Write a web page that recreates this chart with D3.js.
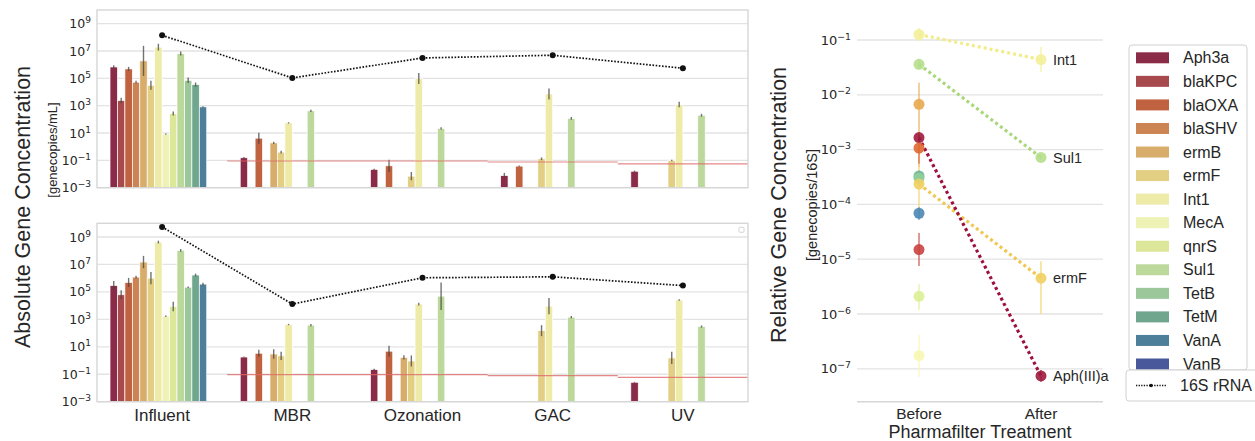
<!DOCTYPE html>
<html>
<head>
  <meta charset="utf-8">
  <title>Gene concentration</title>
  <script src="https://d3js.org/d3.v7.min.js"></script>
  <style>
    body { margin: 0; background: #fff; }
    text { fill: #262626; }
  </style>
</head>
<body>
  <svg width="1255" height="441"></svg>
  <script>
// treatment stages and genes
const stages = ['Influent', 'MBR', 'Ozonation', 'GAC', 'UV'];
const genes = ['Aph3a', 'blaKPC', 'blaOXA', 'blaSHV', 'ermB', 'ermF', 'Int1', 'MecA',
               'qnrS', 'Sul1', 'TetB', 'TetM', 'VanA', 'VanB'];
const geneColors = ['#8a2b47', '#a84a4d', '#c0613f', '#cc8552', '#d8ad6b', '#e2cf84', '#eeeba9',
                    '#eef2b4', '#dce79a', '#bcd89b', '#9cc79b', '#6fa68d', '#4e7f9a', '#48589a'];

// top panel: genecopies/mL per stage (rows) and gene (columns), null = not detected
const topConc = [
  [6.8e5, 2.4e3, 4.9e5, 5.2e4, 1.9e6, 3.1e4, 1.9e7, 8.3, 270, 6.5e6, 7.2e4, 3.5e4, 820, null],
  [0.155, null, 4.2, null, 1.9, 0.4, 55, null, null, 420, null, null, null, null],
  [0.022, null, 0.04, null, null, 0.007, 9.7e4, null, null, 22, null, null, null, null],
  [0.0076, null, 0.038, null, null, 0.13, 7.2e3, null, null, 117, null, null, null, null],
  [0.016, null, null, null, null, 0.1, 1.2e3, null, null, 200, null, null, null, null]
];
// error half span in decades
const topErr = [
  [0.12, 0.2, 0.15, 0.1, 1.1, 0.33, 0.25, 0.05, 0.15, 0.15, 0.2, 0.15, 0.05, null],
  [0.05, null, 0.4, null, 0.08, 0.1, 0.05, null, null, 0.08, null, null, null, null],
  [0.05, null, 0.45, null, null, 0.3, 0.4, null, null, 0.08, null, null, null, null],
  [0.2, null, 0.05, null, null, 0.1, 0.4, null, null, 0.1, null, null, null, null],
  [0.05, null, null, null, null, 0.05, 0.2, null, null, 0.1, null, null, null, null]
];
const top16S = [1.4e8, 1.07e5, 3.1e6, 4.9e6, 5.5e5];
const topLimit = [null, 0.09, 0.09, 0.076, 0.056];

// bottom panel
const botConc = [
  [2.9e5, 6.2e4, 4.9e5, 1.2e6, 1.5e7, 1.0e6, 4.3e8, 1.7e3, 8.6e3, 1.05e8, 2.2e5, 1.7e6, 3.7e5, null],
  [1.8, null, 3.4, null, 3.0, 2.2, 420, null, null, 380, null, null, null, null],
  [0.22, null, 4.8, null, 1.7, 0.93, 1.3e4, null, null, 4.9e4, null, null, null, null],
  [null, null, null, null, null, 150, 9.2e3, null, null, 1.45e3, null, null, null, null],
  [0.026, null, null, null, null, 1.55, 2.6e4, null, null, 300, null, null, null, null]
];
const botErr = [
  [0.33, 0.33, 0.33, 0.1, 0.45, 0.45, 0.1, 0.05, 0.35, 0.1, 0.05, 0.1, 0.1, null],
  [0.03, null, 0.25, null, 0.35, 0.3, 0.05, null, null, 0.08, null, null, null, null],
  [0.05, null, 0.4, null, 0.15, 0.4, 0.1, null, null, 1.0, null, null, null, null],
  [null, null, null, null, null, 0.4, 0.6, null, null, 0.08, null, null, null, null],
  [0.03, null, null, null, null, 0.45, 0.05, null, null, 0.08, null, null, null, null]
];
const bot16S = [5.4e9, 1.3e4, 1.07e6, 1.26e6, 2.9e5];
const botLimit = [null, 0.093, 0.093, 0.08, 0.06];

// right panel: relative concentration (genecopies/16S)
const relGenes = ['Int1', 'Sul1', 'ermB', 'Aph3a', 'blaOXA', 'TetM', 'TetB', 'ermF', 'VanA', 'blaKPC', 'qnrS', 'MecA'];
const relColors = ['#f4ef98', '#b5de8c', '#e8a850', '#9e1b3e', '#e0672f', '#6cb593', '#8fcf9a',
                   '#f0d062', '#4b87b3', '#c9423f', '#dcee95', '#f6f7b2'];
const relBefore = [0.126, 0.036, 0.0067, 1.66e-3, 1.07e-3, 3.3e-4, 3.0e-4, 2.35e-4, 6.9e-5, 1.5e-5, 2.1e-6, 1.74e-7];
const relBeforeLow = [0.095, 0.029, 4.8e-4, 1.4e-3, 5.5e-4, 2.6e-4, 2.4e-4, 9e-5, 5.2e-5, 7.5e-6, 1.2e-6, 7.2e-8];
const relBeforeHigh = [0.165, 0.045, 0.0166, 1.9e-3, 1.9e-3, 4.2e-4, 3.8e-4, 5e-4, 9e-5, 3e-5, 3.5e-6, 4.2e-7];
const afterGenes = ['Int1', 'Sul1', 'ermF', 'Aph3a'];
const afterLabels = ['Int1', 'Sul1', 'ermF', 'Aph(III)a'];
const relAfter = [0.044, 7.2e-4, 4.5e-6, 7.4e-8];
const relAfterLow = [0.026, 6.4e-4, 1.0e-6, 5.8e-8];
const relAfterHigh = [0.075, 8.1e-4, 9.2e-6, 9.5e-8];
const relLineColors = ['#f3ec86', '#a9d87a', '#f0c850', '#9e0f3c'];
const treatments = ['Before', 'After'];

const svg = d3.select('svg');
const tickFont = 'DejaVu Sans, sans-serif';
const labelFont = 'Liberation Sans, Arial, sans-serif';

function supLabel(sel, d) {
  const e = Math.round(Math.log10(d));
  sel.text('');
  sel.append('tspan').text('10');
  sel.append('tspan').attr('dy', '-0.55em').attr('font-size', '0.72em')
    .text(e < 0 ? '\u2212' + (-e) : e);
}

// ---------- left panels ----------
const xGroup = d3.scaleBand().domain(stages).range([97, 748]);
const bw = xGroup.bandwidth();
const xGene = d3.scaleBand().domain(genes).range([0, bw * 0.8]);

function drawPanel(y0, y1, conc, err, s16, limit, showEmptyLegend) {
  const y = d3.scaleLog().domain([1e-3, 1e10]).range([y1, y0]);
  const g = svg.append('g');
  const ticks = [1e-3, 1e-1, 1e1, 1e3, 1e5, 1e7, 1e9];

  g.selectAll('line.grid').data(ticks).join('line')
    .attr('x1', 97).attr('x2', 748)
    .attr('y1', d => y(d)).attr('y2', d => y(d))
    .attr('stroke', '#e3e3e3').attr('stroke-width', 1.3);

  const axis = g.append('g').attr('transform', 'translate(97,0)')
    .call(d3.axisLeft(y).tickValues(ticks).tickSize(0).tickPadding(6));
  axis.select('.domain').remove();
  axis.selectAll('.tick text')
    .attr('font-family', tickFont).attr('font-size', 12.5).attr('fill', '#333')
    .each(function(d) { supLabel(d3.select(this), d); });

  // bars
  stages.forEach((s, i) => {
    const gx = xGroup(s) + bw * 0.1;
    genes.forEach((gene, j) => {
      const v = conc[i][j];
      if (v == null) return;
      g.append('rect')
        .attr('x', gx + xGene(gene)).attr('width', xGene.bandwidth())
        .attr('y', y(v)).attr('height', y1 - y(v))
        .attr('fill', geneColors[j]).attr('stroke', '#fff').attr('stroke-width', 0.7);
    });
    genes.forEach((gene, j) => {
      const v = conc[i][j], e = err[i][j];
      if (v == null) return;
      const cx = gx + xGene(gene) + xGene.bandwidth() / 2;
      g.append('line')
        .attr('x1', cx).attr('x2', cx)
        .attr('y1', Math.min(y1, y(v * Math.pow(10, -e)))).attr('y2', y(v * Math.pow(10, e)))
        .attr('stroke', '#444').attr('stroke-opacity', 0.75).attr('stroke-width', 1.4);
    });
    if (limit[i] != null) {
      g.append('line')
        .attr('x1', xGroup(s)).attr('x2', xGroup(s) + bw)
        .attr('y1', y(limit[i])).attr('y2', y(limit[i]))
        .attr('stroke', '#de6a6a').attr('stroke-opacity', 0.8).attr('stroke-width', 1.2);
    }
  });

  // 16S rRNA
  const line = d3.line().x((d, i) => xGroup(stages[i]) + bw / 2).y(d => y(d));
  g.append('path').datum(s16)
    .attr('fill', 'none').attr('stroke', '#111').attr('stroke-width', 1.7)
    .attr('stroke-dasharray', '1.6,1.6').attr('d', line);
  g.selectAll('circle').data(s16).join('circle')
    .attr('cx', (d, i) => xGroup(stages[i]) + bw / 2).attr('cy', d => y(d))
    .attr('r', 3).attr('fill', '#111');

  g.append('rect').attr('x', 97).attr('y', y0).attr('width', 651).attr('height', y1 - y0)
    .attr('fill', 'none').attr('stroke', '#d6d6d6').attr('stroke-width', 1.4);

  if (showEmptyLegend) {
    g.append('rect').attr('x', 739).attr('y', y0 + 4).attr('width', 5).attr('height', 5).attr('rx', 1)
      .attr('fill', '#fff').attr('stroke', '#ccc').attr('stroke-width', 0.8);
  }
}

drawPanel(10, 187.7, topConc, topErr, top16S, topLimit, false);
drawPanel(223.3, 401.7, botConc, botErr, bot16S, botLimit, true);

svg.append('g').selectAll('text').data(stages).join('text')
  .attr('x', d => xGroup(d) + bw / 2).attr('y', 415).attr('dy', '0.35em')
  .attr('text-anchor', 'middle').attr('font-family', labelFont).attr('font-size', 17)
  .text(d => d);

svg.append('text').attr('transform', 'translate(22,207) rotate(-90)').attr('dy', '0.35em')
  .attr('text-anchor', 'middle').attr('font-family', labelFont).attr('font-size', 21.5)
  .text('Absolute Gene Concentration');
svg.append('text').attr('transform', 'translate(52,150) rotate(-90)').attr('dy', '0.35em')
  .attr('text-anchor', 'middle').attr('font-family', labelFont).attr('font-size', 13)
  .text('[genecopies/mL]');

// ---------- right panel ----------
const xr = d3.scalePoint().domain(treatments).range([919, 1041]);
const yr = d3.scaleLog().domain([Math.pow(10, -7.6), Math.pow(10, -0.635)]).range([401.7, 20]);
const rg = svg.append('g');
const rTicks = [1e-1, 1e-2, 1e-3, 1e-4, 1e-5, 1e-6, 1e-7];

rg.selectAll('line.grid').data(rTicks).join('line')
  .attr('x1', 857).attr('x2', 1103)
  .attr('y1', d => yr(d)).attr('y2', d => yr(d))
  .attr('stroke', '#e3e3e3').attr('stroke-width', 1.3);
rg.append('line').attr('x1', 857).attr('x2', 1103).attr('y1', 401.7).attr('y2', 401.7)
  .attr('stroke', '#d6d6d6').attr('stroke-width', 1.4);

const rAxis = rg.append('g').attr('transform', 'translate(857,0)')
  .call(d3.axisLeft(yr).tickValues(rTicks).tickSize(0).tickPadding(6));
rAxis.select('.domain').remove();
rAxis.selectAll('.tick text')
  .attr('font-family', tickFont).attr('font-size', 13).attr('fill', '#333')
  .each(function(d) { supLabel(d3.select(this), d); });

// before error bars and points
relGenes.forEach((gene, i) => {
  rg.append('line')
    .attr('x1', xr('Before')).attr('x2', xr('Before'))
    .attr('y1', yr(relBeforeLow[i])).attr('y2', yr(relBeforeHigh[i]))
    .attr('stroke', relColors[i]).attr('stroke-opacity', 0.55).attr('stroke-width', 2);
});
afterGenes.forEach((gene, i) => {
  rg.append('line')
    .attr('x1', xr('After')).attr('x2', xr('After'))
    .attr('y1', yr(relAfterLow[i])).attr('y2', yr(relAfterHigh[i]))
    .attr('stroke', relColors[relGenes.indexOf(gene)]).attr('stroke-opacity', 0.55).attr('stroke-width', 2);
});
// before -> after dotted lines
afterGenes.forEach((gene, i) => {
  const b = relBefore[relGenes.indexOf(gene)];
  rg.append('line')
    .attr('x1', xr('Before')).attr('y1', yr(b))
    .attr('x2', xr('After')).attr('y2', yr(relAfter[i]))
    .attr('stroke', relLineColors[i]).attr('stroke-width', 3.2)
    .attr('stroke-dasharray', '3,3');
});
rg.selectAll('circle.before').data(relBefore).join('circle')
  .attr('cx', xr('Before')).attr('cy', d => yr(d)).attr('r', 5.5)
  .attr('fill', (d, i) => relColors[i]).attr('fill-opacity', 0.9);
rg.selectAll('circle.after').data(relAfter).join('circle')
  .attr('cx', xr('After')).attr('cy', d => yr(d)).attr('r', 5.5)
  .attr('fill', (d, i) => relColors[relGenes.indexOf(afterGenes[i])]).attr('fill-opacity', 0.9);
rg.selectAll('text.lab').data(afterLabels).join('text')
  .attr('x', xr('After') + 12).attr('y', (d, i) => yr(relAfter[i])).attr('dy', '0.35em')
  .attr('font-family', labelFont).attr('font-size', 14.5).text(d => d);

rg.selectAll('text.tr').data(treatments).join('text')
  .attr('x', d => xr(d)).attr('y', 414).attr('dy', '0.35em').attr('text-anchor', 'middle')
  .attr('font-family', labelFont).attr('font-size', 15.5).text(d => d);
svg.append('text').attr('x', 980).attr('y', 432).attr('dy', '0.35em').attr('text-anchor', 'middle')
  .attr('font-family', labelFont).attr('font-size', 18).text('Pharmafilter Treatment');
svg.append('text').attr('transform', 'translate(778,205) rotate(-90)').attr('dy', '0.35em')
  .attr('text-anchor', 'middle').attr('font-family', labelFont).attr('font-size', 21.5)
  .text('Relative Gene Concentration');
svg.append('text').attr('transform', 'translate(812,205) rotate(-90)').attr('dy', '0.35em')
  .attr('text-anchor', 'middle').attr('font-family', labelFont).attr('font-size', 14.5)
  .text('[genecopies/16S]');

// ---------- legend ----------
const lg = svg.append('g');
lg.append('rect').attr('x', 1129).attr('y', 45).attr('width', 118).attr('height', 325).attr('rx', 3)
  .attr('fill', '#fff').attr('stroke', '#d0d0d0');
const rowY = d3.scalePoint().domain(genes).range([57.8, 364]);
lg.selectAll('rect.patch').data(genes).join('rect')
  .attr('x', 1136).attr('y', d => rowY(d) - 5.5).attr('width', 33).attr('height', 11)
  .attr('fill', (d, i) => geneColors[i]);
lg.selectAll('text').data(genes).join('text')
  .attr('x', 1183).attr('y', d => rowY(d)).attr('dy', '0.35em')
  .attr('font-family', labelFont).attr('font-size', 16).text(d => d);

const lg2 = svg.append('g');
lg2.append('rect').attr('x', 1126).attr('y', 370).attr('width', 140).attr('height', 31).attr('rx', 3)
  .attr('fill', '#fff').attr('stroke', '#d0d0d0');
lg2.append('line').attr('x1', 1136).attr('x2', 1166).attr('y1', 385.5).attr('y2', 385.5)
  .attr('stroke', '#111').attr('stroke-width', 1.5).attr('stroke-dasharray', '1.3,1.3');
lg2.append('circle').attr('cx', 1151).attr('cy', 385.5).attr('r', 1.8).attr('fill', '#111');
lg2.append('text').attr('x', 1180).attr('y', 385.5).attr('dy', '0.35em')
  .attr('font-family', labelFont).attr('font-size', 16).text('16S rRNA');
  </script>
</body>
</html>
